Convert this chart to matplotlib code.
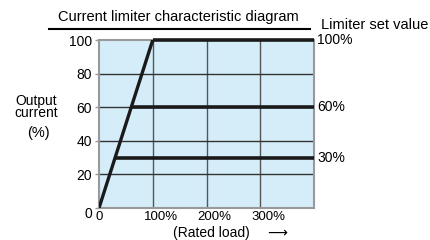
import matplotlib
matplotlib.use('Agg')
import matplotlib.pyplot as plt
import matplotlib.transforms as mtransforms
from matplotlib.lines import Line2D

plt.rcParams['font.family'] = ['Liberation Sans', 'DejaVu Sans']

# data
x_ticks = [0, 100, 200, 300]
x_labels = ['0', '100%', '200%', '300%']
y_ticks = [0, 20, 40, 60, 80, 100]
x_max = 400
rise_x = [0, 100]
rise_y = [0, 100]
limit_values = [100, 60, 30]
limit_labels = ['100%', '60%', '30%']

fig = plt.figure(figsize=(4.3, 2.4), dpi=100)
ax = fig.add_axes([99/430, 32/240, 215/430, 168/240])
ax.set_facecolor('#d4edf9')
ax.set_xlim(0, x_max)
ax.set_ylim(0, 100)

# grid
for xv in x_ticks[1:]:
    ax.axvline(xv, color='#555555', lw=1.0, zorder=1)
for yv in y_ticks[1:-1]:
    ax.axhline(yv, color='#333333', lw=1.0, zorder=1)

# characteristic lines
ax.plot(rise_x, rise_y, color='#1a1a1a', lw=2.4, zorder=3, solid_capstyle='butt')
for lv, lab in zip(limit_values, limit_labels):
    ax.plot([lv, x_max], [lv, lv], color='#1a1a1a', lw=2.6, zorder=3,
            clip_on=False, solid_capstyle='butt')
    ax.text(1.014, lv, lab, transform=ax.get_yaxis_transform(),
            ha='left', va='center', fontsize=10)

for s in ax.spines.values():
    s.set_color('#999999')
    s.set_linewidth(1.5)

ax.set_xticks(x_ticks)
ax.set_xticklabels(x_labels, fontsize=9.5)
ax.set_yticks(y_ticks)
ax.set_yticklabels([str(v) for v in y_ticks], fontsize=10)
ax.tick_params(axis='x', length=0, pad=2)
ax.tick_params(axis='y', length=3, width=1, color='#999999', pad=2)

# shift percentage labels slightly right, and y "0" down
for lab in ax.get_xticklabels()[1:]:
    lab.set_transform(lab.get_transform() + mtransforms.ScaledTranslation(8/100, 0, fig.dpi_scale_trans))
ylab0 = ax.get_yticklabels()[0]
ylab0.set_transform(ylab0.get_transform() + mtransforms.ScaledTranslation(0, -5/100, fig.dpi_scale_trans))

# title and annotations
fig.text(178/430, 1 - 17.5/240, 'Current limiter characteristic diagram',
         ha='center', va='center', fontsize=10.5)
fig.add_artist(Line2D([49/430, 310/430], [1 - 29/240] * 2, color='black', lw=1.5))
fig.text(321/430, 1 - 25/240, 'Limiter set value', ha='left', va='center', fontsize=10.5)

fig.text(36/430, 1 - 107/240, 'Output\ncurrent', ha='center', va='center',
         fontsize=10, linespacing=0.85)
fig.text(38/430, 1 - 133/240, '(%)', ha='center', va='center', fontsize=10.5)

fig.text(211/430, 1 - 233.5/240, '(Rated load)', ha='center', va='center', fontsize=10)
fig.text(277/430, 1 - 233.5/240, '⟶', ha='center', va='center', fontsize=10)

fig.savefig('out.png', dpi=100)
